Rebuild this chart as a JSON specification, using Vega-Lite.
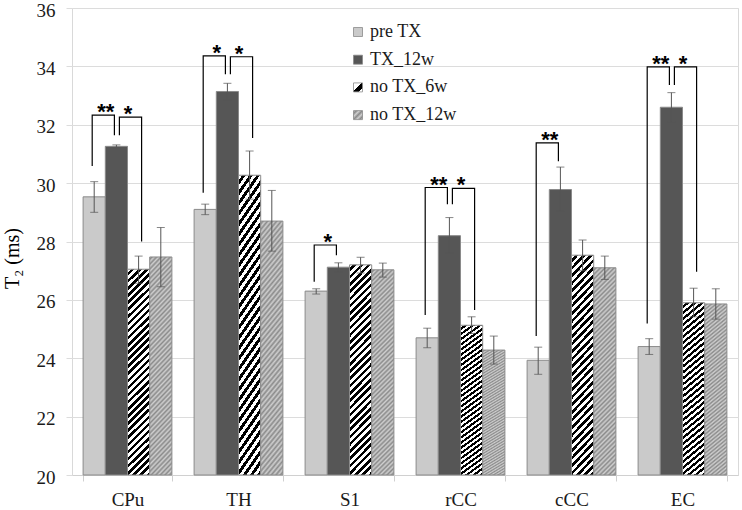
{
  "$schema": "https://vega.github.io/schema/vega-lite/v6.json",
  "autosize": {"type": "none"},
  "width": 666,
  "height": 467,
  "padding": {"left": 72, "top": 8, "right": 4, "bottom": 35},
  "background": "#ffffff",
  "config": {
    "font": "Liberation Serif",
    "view": {"stroke": "#d9d9d9", "strokeWidth": 1}
  },
  "resolve": {"scale": {"xOffset": "independent"}},
  "datasets": {
    "bars": [
      {"group": "CPu", "series": "pre TX", "value": 29.53, "lo": 29.0, "hi": 30.05},
      {"group": "CPu", "series": "TX_12w", "value": 31.26, "lo": 31.21, "hi": 31.31},
      {"group": "CPu", "series": "no TX_6w", "value": 27.05, "lo": 26.57, "hi": 27.5},
      {"group": "CPu", "series": "no TX_12w", "value": 27.47, "lo": 26.45, "hi": 28.48},
      {"group": "TH", "series": "pre TX", "value": 29.1, "lo": 28.92, "hi": 29.28},
      {"group": "TH", "series": "TX_12w", "value": 33.14, "lo": 32.85, "hi": 33.42},
      {"group": "TH", "series": "no TX_6w", "value": 30.27, "lo": 29.45, "hi": 31.1},
      {"group": "TH", "series": "no TX_12w", "value": 28.7, "lo": 27.67, "hi": 29.75},
      {"group": "S1", "series": "pre TX", "value": 26.3, "lo": 26.2, "hi": 26.38},
      {"group": "S1", "series": "TX_12w", "value": 27.12, "lo": 26.96, "hi": 27.27},
      {"group": "S1", "series": "no TX_6w", "value": 27.2, "lo": 26.92, "hi": 27.46},
      {"group": "S1", "series": "no TX_12w", "value": 27.03, "lo": 26.78, "hi": 27.26},
      {"group": "rCC", "series": "pre TX", "value": 24.7, "lo": 24.36, "hi": 25.03},
      {"group": "rCC", "series": "TX_12w", "value": 28.2, "lo": 27.6, "hi": 28.82},
      {"group": "rCC", "series": "no TX_6w", "value": 25.13, "lo": 24.85, "hi": 25.42},
      {"group": "rCC", "series": "no TX_12w", "value": 24.28, "lo": 23.8, "hi": 24.76},
      {"group": "cCC", "series": "pre TX", "value": 23.93, "lo": 23.45, "hi": 24.38},
      {"group": "cCC", "series": "TX_12w", "value": 29.78, "lo": 29.03, "hi": 30.55},
      {"group": "cCC", "series": "no TX_6w", "value": 27.53, "lo": 27.0, "hi": 28.05},
      {"group": "cCC", "series": "no TX_12w", "value": 27.1, "lo": 26.7, "hi": 27.5},
      {"group": "EC", "series": "pre TX", "value": 24.4, "lo": 24.13, "hi": 24.67},
      {"group": "EC", "series": "TX_12w", "value": 32.6, "lo": 32.1, "hi": 33.1},
      {"group": "EC", "series": "no TX_6w", "value": 25.9, "lo": 25.42, "hi": 26.4},
      {"group": "EC", "series": "no TX_12w", "value": 25.86, "lo": 25.34, "hi": 26.38}
    ],
    "brackets": [
      {"bid": "CPu-L", "side": "L", "group": "CPu", "series": "pre TX", "y": 30.59, "ord": 1},
      {"bid": "CPu-L", "side": "L", "group": "CPu", "series": "pre TX", "y": 32.33, "ord": 2},
      {"bid": "CPu-L", "side": "L", "group": "CPu", "series": "TX_12w", "y": 32.33, "ord": 3},
      {"bid": "CPu-L", "side": "L", "group": "CPu", "series": "TX_12w", "y": 31.64, "ord": 4},
      {"bid": "CPu-R", "side": "R", "group": "CPu", "series": "TX_12w", "y": 31.64, "ord": 1},
      {"bid": "CPu-R", "side": "R", "group": "CPu", "series": "TX_12w", "y": 32.26, "ord": 2},
      {"bid": "CPu-R", "side": "R", "group": "CPu", "series": "no TX_6w", "y": 32.26, "ord": 3},
      {"bid": "CPu-R", "side": "R", "group": "CPu", "series": "no TX_6w", "y": 28.0, "ord": 4},
      {"bid": "TH-L", "side": "L", "group": "TH", "series": "pre TX", "y": 29.67, "ord": 1},
      {"bid": "TH-L", "side": "L", "group": "TH", "series": "pre TX", "y": 34.36, "ord": 2},
      {"bid": "TH-L", "side": "L", "group": "TH", "series": "TX_12w", "y": 34.36, "ord": 3},
      {"bid": "TH-L", "side": "L", "group": "TH", "series": "TX_12w", "y": 33.73, "ord": 4},
      {"bid": "TH-R", "side": "R", "group": "TH", "series": "TX_12w", "y": 33.73, "ord": 1},
      {"bid": "TH-R", "side": "R", "group": "TH", "series": "TX_12w", "y": 34.33, "ord": 2},
      {"bid": "TH-R", "side": "R", "group": "TH", "series": "no TX_6w", "y": 34.33, "ord": 3},
      {"bid": "TH-R", "side": "R", "group": "TH", "series": "no TX_6w", "y": 31.55, "ord": 4},
      {"bid": "S1-L", "side": "L", "group": "S1", "series": "pre TX", "y": 26.62, "ord": 1},
      {"bid": "S1-L", "side": "L", "group": "S1", "series": "pre TX", "y": 27.88, "ord": 2},
      {"bid": "S1-L", "side": "L", "group": "S1", "series": "TX_12w", "y": 27.88, "ord": 3},
      {"bid": "S1-L", "side": "L", "group": "S1", "series": "TX_12w", "y": 27.53, "ord": 4},
      {"bid": "rCC-L", "side": "L", "group": "rCC", "series": "pre TX", "y": 25.48, "ord": 1},
      {"bid": "rCC-L", "side": "L", "group": "rCC", "series": "pre TX", "y": 29.85, "ord": 2},
      {"bid": "rCC-L", "side": "L", "group": "rCC", "series": "TX_12w", "y": 29.85, "ord": 3},
      {"bid": "rCC-L", "side": "L", "group": "rCC", "series": "TX_12w", "y": 29.28, "ord": 4},
      {"bid": "rCC-R", "side": "R", "group": "rCC", "series": "TX_12w", "y": 29.28, "ord": 1},
      {"bid": "rCC-R", "side": "R", "group": "rCC", "series": "TX_12w", "y": 29.82, "ord": 2},
      {"bid": "rCC-R", "side": "R", "group": "rCC", "series": "no TX_6w", "y": 29.82, "ord": 3},
      {"bid": "rCC-R", "side": "R", "group": "rCC", "series": "no TX_6w", "y": 25.65, "ord": 4},
      {"bid": "cCC-L", "side": "L", "group": "cCC", "series": "pre TX", "y": 24.76, "ord": 1},
      {"bid": "cCC-L", "side": "L", "group": "cCC", "series": "pre TX", "y": 31.38, "ord": 2},
      {"bid": "cCC-L", "side": "L", "group": "cCC", "series": "TX_12w", "y": 31.38, "ord": 3},
      {"bid": "cCC-L", "side": "L", "group": "cCC", "series": "TX_12w", "y": 30.75, "ord": 4},
      {"bid": "EC-L", "side": "L", "group": "EC", "series": "pre TX", "y": 25.19, "ord": 1},
      {"bid": "EC-L", "side": "L", "group": "EC", "series": "pre TX", "y": 33.98, "ord": 2},
      {"bid": "EC-L", "side": "L", "group": "EC", "series": "TX_12w", "y": 33.98, "ord": 3},
      {"bid": "EC-L", "side": "L", "group": "EC", "series": "TX_12w", "y": 33.36, "ord": 4},
      {"bid": "EC-R", "side": "R", "group": "EC", "series": "TX_12w", "y": 33.36, "ord": 1},
      {"bid": "EC-R", "side": "R", "group": "EC", "series": "TX_12w", "y": 33.98, "ord": 2},
      {"bid": "EC-R", "side": "R", "group": "EC", "series": "no TX_6w", "y": 33.98, "ord": 3},
      {"bid": "EC-R", "side": "R", "group": "EC", "series": "no TX_6w", "y": 26.96, "ord": 4}
    ],
    "stars": [
      {"group": "CPu", "series": "pre TX", "y": 32.33, "label": "**"},
      {"group": "CPu", "series": "TX_12w", "y": 32.26, "label": "*"},
      {"group": "TH", "series": "pre TX", "y": 34.36, "label": "*"},
      {"group": "TH", "series": "TX_12w", "y": 34.33, "label": "*"},
      {"group": "S1", "series": "pre TX", "y": 27.88, "label": "*"},
      {"group": "rCC", "series": "pre TX", "y": 29.85, "label": "**"},
      {"group": "rCC", "series": "TX_12w", "y": 29.82, "label": "*"},
      {"group": "cCC", "series": "pre TX", "y": 31.38, "label": "**"},
      {"group": "EC", "series": "pre TX", "y": 33.98, "label": "**"},
      {"group": "EC", "series": "TX_12w", "y": 33.98, "label": "*"}
    ]
  },
  "layer": [
    {
      "data": {"name": "bars"},
      "mark": {"type": "bar", "stroke": "#8a8a8a", "strokeWidth": 1},
      "encoding": {
        "x": {
          "field": "group", "type": "nominal",
          "sort": ["CPu", "TH", "S1", "rCC", "cCC", "EC"],
          "scale": {"domain": ["CPu", "TH", "S1", "rCC", "cCC", "EC"], "paddingInner": 0.2, "paddingOuter": 0.1},
          "axis": {
            "title": null, "labelAngle": 0, "labelFontSize": 19, "labelColor": "#1a1a1a", "labelFont": "Liberation Serif",
            "labelPadding": 9, "domainColor": "#d0d0d0", "tickColor": "#d0d0d0", "tickSize": 6, "tickBand": "extent", "grid": false
          }
        },
        "xOffset": {
          "field": "series", "type": "nominal",
          "sort": ["pre TX", "TX_12w", "no TX_6w", "no TX_12w"],
          "scale": {"domain": ["pre TX", "TX_12w", "no TX_6w", "no TX_12w"], "paddingInner": 0, "paddingOuter": 0}
        },
        "y": {
          "field": "value", "type": "quantitative",
          "scale": {"domain": [20, 36], "nice": false, "zero": false},
          "axis": {
            "title": "T₂ (ms)", "titleFont": "Liberation Serif", "titleFontSize": 20, "titleFontWeight": "normal", "titleColor": "#000000",
            "titleAngle": -90, "titleX": -54, "titleY": 250, "titleBaseline": "alphabetic", "titleAlign": "center",
            "values": [20, 22, 24, 26, 28, 30, 32, 34, 36], "labelFontSize": 19, "labelColor": "#1a1a1a", "labelFont": "Liberation Serif",
            "labelPadding": 11, "labelOffset": 2, "domain": false, "tickColor": "#dcdcdc", "tickSize": 6, "gridColor": "#dcdcdc", "grid": true
          }
        },
        "y2": {"datum": 20},
        "fill": {
          "condition": [
            {"test": "datum.series === 'pre TX'", "value": "#cacaca"},
            {"test": "datum.series === 'TX_12w'", "value": "#565656"},
            {"test": "datum.series === 'no TX_6w'", "value": {
              "gradient": "linear", "x1": 0, "y1": 0, "x2": 0.117, "y2": 1.094,
              "stops": [
                {"offset": 0, "color": "#fff"}, {"offset": 0.015625, "color": "#fff"},
                {"offset": 0.015625, "color": "#000"}, {"offset": 0.03125, "color": "#000"},
                {"offset": 0.03125, "color": "#fff"}, {"offset": 0.046875, "color": "#fff"},
                {"offset": 0.046875, "color": "#000"}, {"offset": 0.0625, "color": "#000"},
                {"offset": 0.0625, "color": "#fff"}, {"offset": 0.078125, "color": "#fff"},
                {"offset": 0.078125, "color": "#000"}, {"offset": 0.09375, "color": "#000"},
                {"offset": 0.09375, "color": "#fff"}, {"offset": 0.109375, "color": "#fff"},
                {"offset": 0.109375, "color": "#000"}, {"offset": 0.125, "color": "#000"},
                {"offset": 0.125, "color": "#fff"}, {"offset": 0.140625, "color": "#fff"},
                {"offset": 0.140625, "color": "#000"}, {"offset": 0.15625, "color": "#000"},
                {"offset": 0.15625, "color": "#fff"}, {"offset": 0.171875, "color": "#fff"},
                {"offset": 0.171875, "color": "#000"}, {"offset": 0.1875, "color": "#000"},
                {"offset": 0.1875, "color": "#fff"}, {"offset": 0.203125, "color": "#fff"},
                {"offset": 0.203125, "color": "#000"}, {"offset": 0.21875, "color": "#000"},
                {"offset": 0.21875, "color": "#fff"}, {"offset": 0.234375, "color": "#fff"},
                {"offset": 0.234375, "color": "#000"}, {"offset": 0.25, "color": "#000"},
                {"offset": 0.25, "color": "#fff"}, {"offset": 0.265625, "color": "#fff"},
                {"offset": 0.265625, "color": "#000"}, {"offset": 0.28125, "color": "#000"},
                {"offset": 0.28125, "color": "#fff"}, {"offset": 0.296875, "color": "#fff"},
                {"offset": 0.296875, "color": "#000"}, {"offset": 0.3125, "color": "#000"},
                {"offset": 0.3125, "color": "#fff"}, {"offset": 0.328125, "color": "#fff"},
                {"offset": 0.328125, "color": "#000"}, {"offset": 0.34375, "color": "#000"},
                {"offset": 0.34375, "color": "#fff"}, {"offset": 0.359375, "color": "#fff"},
                {"offset": 0.359375, "color": "#000"}, {"offset": 0.375, "color": "#000"},
                {"offset": 0.375, "color": "#fff"}, {"offset": 0.390625, "color": "#fff"},
                {"offset": 0.390625, "color": "#000"}, {"offset": 0.40625, "color": "#000"},
                {"offset": 0.40625, "color": "#fff"}, {"offset": 0.421875, "color": "#fff"},
                {"offset": 0.421875, "color": "#000"}, {"offset": 0.4375, "color": "#000"},
                {"offset": 0.4375, "color": "#fff"}, {"offset": 0.453125, "color": "#fff"},
                {"offset": 0.453125, "color": "#000"}, {"offset": 0.46875, "color": "#000"},
                {"offset": 0.46875, "color": "#fff"}, {"offset": 0.484375, "color": "#fff"},
                {"offset": 0.484375, "color": "#000"}, {"offset": 0.5, "color": "#000"},
                {"offset": 0.5, "color": "#fff"}, {"offset": 0.515625, "color": "#fff"},
                {"offset": 0.515625, "color": "#000"}, {"offset": 0.53125, "color": "#000"},
                {"offset": 0.53125, "color": "#fff"}, {"offset": 0.546875, "color": "#fff"},
                {"offset": 0.546875, "color": "#000"}, {"offset": 0.5625, "color": "#000"},
                {"offset": 0.5625, "color": "#fff"}, {"offset": 0.578125, "color": "#fff"},
                {"offset": 0.578125, "color": "#000"}, {"offset": 0.59375, "color": "#000"},
                {"offset": 0.59375, "color": "#fff"}, {"offset": 0.609375, "color": "#fff"},
                {"offset": 0.609375, "color": "#000"}, {"offset": 0.625, "color": "#000"},
                {"offset": 0.625, "color": "#fff"}, {"offset": 0.640625, "color": "#fff"},
                {"offset": 0.640625, "color": "#000"}, {"offset": 0.65625, "color": "#000"},
                {"offset": 0.65625, "color": "#fff"}, {"offset": 0.671875, "color": "#fff"},
                {"offset": 0.671875, "color": "#000"}, {"offset": 0.6875, "color": "#000"},
                {"offset": 0.6875, "color": "#fff"}, {"offset": 0.703125, "color": "#fff"},
                {"offset": 0.703125, "color": "#000"}, {"offset": 0.71875, "color": "#000"},
                {"offset": 0.71875, "color": "#fff"}, {"offset": 0.734375, "color": "#fff"},
                {"offset": 0.734375, "color": "#000"}, {"offset": 0.75, "color": "#000"},
                {"offset": 0.75, "color": "#fff"}, {"offset": 0.765625, "color": "#fff"},
                {"offset": 0.765625, "color": "#000"}, {"offset": 0.78125, "color": "#000"},
                {"offset": 0.78125, "color": "#fff"}, {"offset": 0.796875, "color": "#fff"},
                {"offset": 0.796875, "color": "#000"}, {"offset": 0.8125, "color": "#000"},
                {"offset": 0.8125, "color": "#fff"}, {"offset": 0.828125, "color": "#fff"},
                {"offset": 0.828125, "color": "#000"}, {"offset": 0.84375, "color": "#000"},
                {"offset": 0.84375, "color": "#fff"}, {"offset": 0.859375, "color": "#fff"},
                {"offset": 0.859375, "color": "#000"}, {"offset": 0.875, "color": "#000"},
                {"offset": 0.875, "color": "#fff"}, {"offset": 0.890625, "color": "#fff"},
                {"offset": 0.890625, "color": "#000"}, {"offset": 0.90625, "color": "#000"},
                {"offset": 0.90625, "color": "#fff"}, {"offset": 0.921875, "color": "#fff"},
                {"offset": 0.921875, "color": "#000"}, {"offset": 0.9375, "color": "#000"},
                {"offset": 0.9375, "color": "#fff"}, {"offset": 0.953125, "color": "#fff"},
                {"offset": 0.953125, "color": "#000"}, {"offset": 0.96875, "color": "#000"},
                {"offset": 0.96875, "color": "#fff"}, {"offset": 0.984375, "color": "#fff"},
                {"offset": 0.984375, "color": "#000"}, {"offset": 1, "color": "#000"}
              ]
            }}
          ],
          "value": {
            "gradient": "linear", "x1": 0, "y1": 0, "x2": 0.117, "y2": 1.094,
            "stops": [
              {"offset": 0, "color": "#cfcfcf"}, {"offset": 0.01, "color": "#8a8a8a"}, {"offset": 0.02, "color": "#cfcfcf"}, {"offset": 0.03, "color": "#8a8a8a"},
              {"offset": 0.04, "color": "#cfcfcf"}, {"offset": 0.05, "color": "#8a8a8a"}, {"offset": 0.06, "color": "#cfcfcf"}, {"offset": 0.07, "color": "#8a8a8a"},
              {"offset": 0.08, "color": "#cfcfcf"}, {"offset": 0.09, "color": "#8a8a8a"}, {"offset": 0.10, "color": "#cfcfcf"}, {"offset": 0.11, "color": "#8a8a8a"},
              {"offset": 0.12, "color": "#cfcfcf"}, {"offset": 0.13, "color": "#8a8a8a"}, {"offset": 0.14, "color": "#cfcfcf"}, {"offset": 0.15, "color": "#8a8a8a"},
              {"offset": 0.16, "color": "#cfcfcf"}, {"offset": 0.17, "color": "#8a8a8a"}, {"offset": 0.18, "color": "#cfcfcf"}, {"offset": 0.19, "color": "#8a8a8a"},
              {"offset": 0.20, "color": "#cfcfcf"}, {"offset": 0.21, "color": "#8a8a8a"}, {"offset": 0.22, "color": "#cfcfcf"}, {"offset": 0.23, "color": "#8a8a8a"},
              {"offset": 0.24, "color": "#cfcfcf"}, {"offset": 0.25, "color": "#8a8a8a"}, {"offset": 0.26, "color": "#cfcfcf"}, {"offset": 0.27, "color": "#8a8a8a"},
              {"offset": 0.28, "color": "#cfcfcf"}, {"offset": 0.29, "color": "#8a8a8a"}, {"offset": 0.30, "color": "#cfcfcf"}, {"offset": 0.31, "color": "#8a8a8a"},
              {"offset": 0.32, "color": "#cfcfcf"}, {"offset": 0.33, "color": "#8a8a8a"}, {"offset": 0.34, "color": "#cfcfcf"}, {"offset": 0.35, "color": "#8a8a8a"},
              {"offset": 0.36, "color": "#cfcfcf"}, {"offset": 0.37, "color": "#8a8a8a"}, {"offset": 0.38, "color": "#cfcfcf"}, {"offset": 0.39, "color": "#8a8a8a"},
              {"offset": 0.40, "color": "#cfcfcf"}, {"offset": 0.41, "color": "#8a8a8a"}, {"offset": 0.42, "color": "#cfcfcf"}, {"offset": 0.43, "color": "#8a8a8a"},
              {"offset": 0.44, "color": "#cfcfcf"}, {"offset": 0.45, "color": "#8a8a8a"}, {"offset": 0.46, "color": "#cfcfcf"}, {"offset": 0.47, "color": "#8a8a8a"},
              {"offset": 0.48, "color": "#cfcfcf"}, {"offset": 0.49, "color": "#8a8a8a"}, {"offset": 0.50, "color": "#cfcfcf"}, {"offset": 0.51, "color": "#8a8a8a"},
              {"offset": 0.52, "color": "#cfcfcf"}, {"offset": 0.53, "color": "#8a8a8a"}, {"offset": 0.54, "color": "#cfcfcf"}, {"offset": 0.55, "color": "#8a8a8a"},
              {"offset": 0.56, "color": "#cfcfcf"}, {"offset": 0.57, "color": "#8a8a8a"}, {"offset": 0.58, "color": "#cfcfcf"}, {"offset": 0.59, "color": "#8a8a8a"},
              {"offset": 0.60, "color": "#cfcfcf"}, {"offset": 0.61, "color": "#8a8a8a"}, {"offset": 0.62, "color": "#cfcfcf"}, {"offset": 0.63, "color": "#8a8a8a"},
              {"offset": 0.64, "color": "#cfcfcf"}, {"offset": 0.65, "color": "#8a8a8a"}, {"offset": 0.66, "color": "#cfcfcf"}, {"offset": 0.67, "color": "#8a8a8a"},
              {"offset": 0.68, "color": "#cfcfcf"}, {"offset": 0.69, "color": "#8a8a8a"}, {"offset": 0.70, "color": "#cfcfcf"}, {"offset": 0.71, "color": "#8a8a8a"},
              {"offset": 0.72, "color": "#cfcfcf"}, {"offset": 0.73, "color": "#8a8a8a"}, {"offset": 0.74, "color": "#cfcfcf"}, {"offset": 0.75, "color": "#8a8a8a"},
              {"offset": 0.76, "color": "#cfcfcf"}, {"offset": 0.77, "color": "#8a8a8a"}, {"offset": 0.78, "color": "#cfcfcf"}, {"offset": 0.79, "color": "#8a8a8a"},
              {"offset": 0.80, "color": "#cfcfcf"}, {"offset": 0.81, "color": "#8a8a8a"}, {"offset": 0.82, "color": "#cfcfcf"}, {"offset": 0.83, "color": "#8a8a8a"},
              {"offset": 0.84, "color": "#cfcfcf"}, {"offset": 0.85, "color": "#8a8a8a"}, {"offset": 0.86, "color": "#cfcfcf"}, {"offset": 0.87, "color": "#8a8a8a"},
              {"offset": 0.88, "color": "#cfcfcf"}, {"offset": 0.89, "color": "#8a8a8a"}, {"offset": 0.90, "color": "#cfcfcf"}, {"offset": 0.91, "color": "#8a8a8a"},
              {"offset": 0.92, "color": "#cfcfcf"}, {"offset": 0.93, "color": "#8a8a8a"}, {"offset": 0.94, "color": "#cfcfcf"}, {"offset": 0.95, "color": "#8a8a8a"},
              {"offset": 0.96, "color": "#cfcfcf"}, {"offset": 0.97, "color": "#8a8a8a"}, {"offset": 0.98, "color": "#cfcfcf"}, {"offset": 0.99, "color": "#8a8a8a"},
              {"offset": 1, "color": "#cfcfcf"}
            ]
          }
        }
      }
    },
    {
      "data": {"name": "bars"},
      "mark": {"type": "rule", "color": "#555555", "strokeWidth": 1},
      "encoding": {
        "x": {"field": "group", "type": "nominal"},
        "xOffset": {"field": "series", "type": "nominal", "scale": {"domain": ["pre TX", "TX_12w", "no TX_6w", "no TX_12w"], "paddingInner": 0, "paddingOuter": 0}},
        "y": {"field": "lo", "type": "quantitative"},
        "y2": {"field": "hi"}
      }
    },
    {
      "data": {"name": "bars"},
      "mark": {"type": "tick", "color": "#555555", "size": 8, "thickness": 1},
      "encoding": {
        "x": {"field": "group", "type": "nominal"},
        "xOffset": {"field": "series", "type": "nominal", "scale": {"domain": ["pre TX", "TX_12w", "no TX_6w", "no TX_12w"], "paddingInner": 0, "paddingOuter": 0}},
        "y": {"field": "lo", "type": "quantitative"}
      }
    },
    {
      "data": {"name": "bars"},
      "mark": {"type": "tick", "color": "#555555", "size": 8, "thickness": 1},
      "encoding": {
        "x": {"field": "group", "type": "nominal"},
        "xOffset": {"field": "series", "type": "nominal", "scale": {"domain": ["pre TX", "TX_12w", "no TX_6w", "no TX_12w"], "paddingInner": 0, "paddingOuter": 0}},
        "y": {"field": "hi", "type": "quantitative"}
      }
    },
    {
      "data": {"name": "brackets"},
      "transform": [{"filter": "datum.side === 'L'"}],
      "mark": {"type": "line", "color": "#000000", "strokeWidth": 1.2},
      "encoding": {
        "x": {"field": "group", "type": "nominal"},
        "xOffset": {"field": "series", "type": "nominal", "scale": {"type": "point", "domain": ["pre TX", "TX_12w", "no TX_6w", "no TX_12w"], "padding": 0, "range": [9.1, 75.7]}},
        "y": {"field": "y", "type": "quantitative"},
        "detail": {"field": "bid"},
        "order": {"field": "ord"}
      }
    },
    {
      "data": {"name": "brackets"},
      "transform": [{"filter": "datum.side === 'R'"}],
      "mark": {"type": "line", "color": "#000000", "strokeWidth": 1.2},
      "encoding": {
        "x": {"field": "group", "type": "nominal"},
        "xOffset": {"field": "series", "type": "nominal", "scale": {"type": "point", "domain": ["pre TX", "TX_12w", "no TX_6w", "no TX_12w"], "padding": 0, "range": [14.1, 80.7]}},
        "y": {"field": "y", "type": "quantitative"},
        "detail": {"field": "bid"},
        "order": {"field": "ord"}
      }
    },
    {
      "data": {"name": "stars"},
      "mark": {"type": "text", "font": "Liberation Sans", "fontWeight": "bold", "fontSize": 22, "dy": 4, "baseline": "alphabetic", "align": "center", "color": "#000000"},
      "encoding": {
        "x": {"field": "group", "type": "nominal"},
        "xOffset": {"field": "series", "type": "nominal", "scale": {"type": "point", "domain": ["pre TX", "TX_12w", "no TX_6w", "no TX_12w"], "padding": 0, "range": [22.7, 89.3]}},
        "y": {"field": "y", "type": "quantitative"},
        "text": {"field": "label"}
      }
    },
    {
      "data": {"name": "bars"},
      "transform": [{"filter": "false"}],
      "mark": {"type": "square", "filled": true, "opacity": 1},
      "encoding": {
        "x": {"field": "group", "type": "nominal"},
        "y": {"field": "value", "type": "quantitative"},
        "color": {
          "field": "series", "type": "nominal",
          "scale": {
            "domain": ["pre TX", "TX_12w", "no TX_6w", "no TX_12w"],
            "range": [
              "#cacaca", "#565656",
              {"expr": "{gradient: 'linear', x1: 0, y1: 0, x2: 1, y2: 1, stops: [{offset: 0, color: '#fff'}, {offset: 0.45, color: '#fff'}, {offset: 0.45, color: '#000'}, {offset: 0.8, color: '#000'}, {offset: 0.8, color: '#fff'}, {offset: 1, color: '#fff'}]}"},
              {"expr": "{gradient: 'linear', x1: 0, y1: 0, x2: 1, y2: 1, stops: [{offset: 0, color: '#cfcfcf'}, {offset: 0.17, color: '#8a8a8a'}, {offset: 0.33, color: '#cfcfcf'}, {offset: 0.5, color: '#8a8a8a'}, {offset: 0.67, color: '#cfcfcf'}, {offset: 0.83, color: '#8a8a8a'}, {offset: 1, color: '#cfcfcf'}]}"}
            ]
          },
          "legend": {
            "title": null, "orient": "none", "legendX": 277, "legendY": 15, "padding": 0,
            "symbolType": "square", "symbolSize": 81, "symbolStrokeColor": "#8a8a8a", "symbolStrokeWidth": 0.8,
            "labelFont": "Liberation Serif", "labelFontSize": 18, "labelColor": "#1a1a1a", "labelOffset": 3,
            "rowPadding": 9.7,
            "labelExpr": "datum.label === 'TX_12w' ? ' TX_12w' : datum.label"
          }
        }
      }
    }
  ]
}
